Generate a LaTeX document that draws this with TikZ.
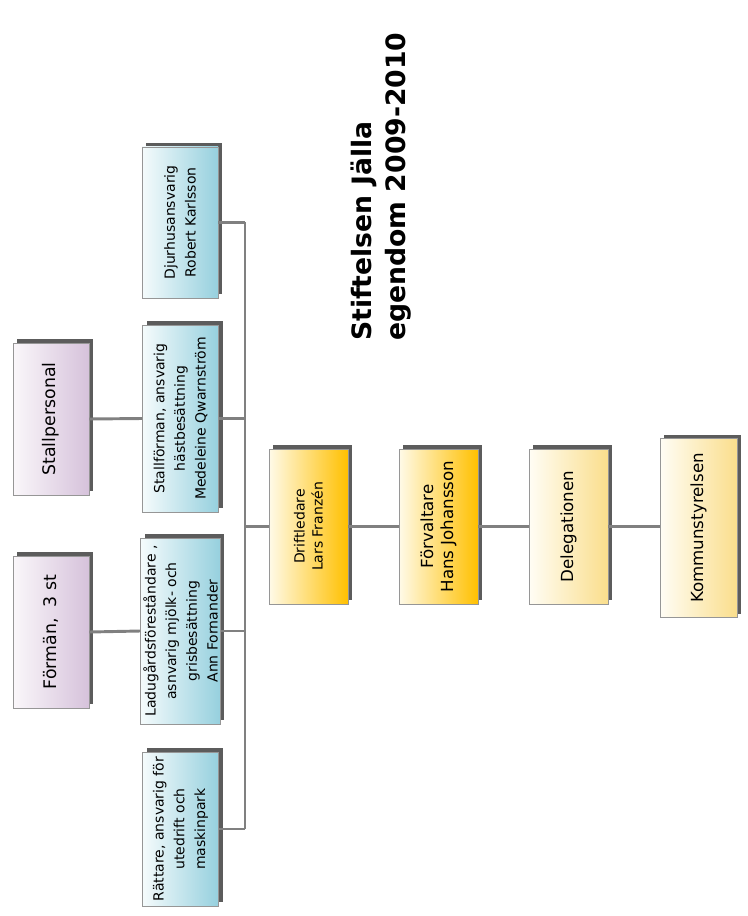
\documentclass[tikz,border=0pt]{standalone}
\usepackage{fontspec}
\setmainfont{DejaVu Sans}
\usepackage{tikz}
\usetikzlibrary{shadows}

\definecolor{lineGray}{RGB}{128,128,128}
\definecolor{edgeGray}{RGB}{150,150,150}
\definecolor{blueRight}{RGB}{150,208,222}
\definecolor{blueLeft}{RGB}{245,251,252}
\definecolor{mauveRight}{RGB}{214,194,219}
\definecolor{mauveLeft}{RGB}{250,247,250}
\definecolor{goldRight}{RGB}{255,192,0}
\definecolor{goldLeft}{RGB}{255,250,232}
\definecolor{paleRight}{RGB}{250,222,140}
\definecolor{paleLeft}{RGB}{255,253,245}

\tikzset{
  orgbox/.style={rotate=90, draw=edgeGray, line width=0.5pt, inner sep=2pt, align=center,
    drop shadow={shadow xshift=3pt, shadow yshift=3pt, fill=black!75, opacity=0.85}},
  bluebox/.style={orgbox, left color=blueLeft, right color=blueRight, minimum height=57pt,
    font=\fontsize{10.5}{15.5}\selectfont},
  mauvebox/.style={orgbox, left color=mauveLeft, right color=mauveRight, minimum height=57pt,
    minimum width=114pt, font=\fontsize{13}{16}\selectfont},
  goldbox/.style={orgbox, left color=goldLeft, right color=goldRight, minimum height=59.25pt,
    minimum width=116.25pt},
  palebox/.style={orgbox, left color=paleLeft, right color=paleRight,
    font=\fontsize{12.5}{15}\selectfont},
  link/.style={draw=lineGray, line width=2.2pt}
}

\begin{document}
\begin{tikzpicture}[x=0.75pt,y=0.75pt,yscale=-1,xscale=1]
\useasboundingbox (0,0) rectangle (747,916);

% Title
\node [rotate=90, anchor=west, align=left, inner sep=0pt,
  font=\bfseries\fontsize{20}{25.5}\selectfont] (title) at (381,341) {Stiftelsen Jälla\\egendom 2009-2010};

% Chain of command
\node [goldbox, font=\fontsize{10.5}{13.5}\selectfont] (drift) at (308.5,526.5) {Driftledare\\Lars Franzén};
\node [goldbox, font=\fontsize{12.5}{15}\selectfont] (forv) at (438.5,526.5) {Förvaltare\\Hans Johansson};
\node [palebox, minimum height=59.25pt, minimum width=116.25pt] (deleg) at (568.5,526.5) {Delegationen};
\node [palebox, minimum height=57.75pt, minimum width=134.25pt] (kommun) at (698.5,528) {Kommunstyrelsen};

% Staff under Driftledare
\node [bluebox, minimum width=113.25pt] (djur) at (180,222.5) {Djurhusansvarig\\Robert Karlsson};
\node [bluebox, minimum width=140.25pt] (stallf) at (180.5,418.5) {Stallförman, ansvarig\\hästbesättning\\Medeleine Qwarnström};
\node [bluebox, minimum width=139.5pt] (ladug) at (180.5,631) {Ladugårdsföreståndare ,\\asnvarig mjölk- och\\grisbesättning\\Ann Fornander};
\node [bluebox, minimum width=115.5pt] (ratt) at (180.5,829) {Rättare, ansvarig för\\utedrift och\\maskinpark};

% Outer staff
\node [mauvebox] (stallp) at (51,419) {Stallpersonal};
\node [mauvebox] (forman) at (51,632) {Förmän,~ 3 st};

% Bus
\coordinate (bus) at (245,526.5);

%Straight Lines
\draw [link] (drift.north) -- (drift.north -| bus);
\draw [link] (djur.south -| bus) -- (ratt.south -| bus);
\draw [link] (djur.south) -- (djur.south -| bus);
\draw [link] (stallf.south) -- (stallf.south -| bus);
\draw [link] (ladug.south) -- (ladug.south -| bus);
\draw [link] (ratt.south) -- (ratt.south -| bus);
\draw [link] (drift.south) -- (forv.north);
\draw [link] (forv.south) -- (deleg.north);
\draw [link] (deleg.south) -- (deleg.south -| kommun.north);
\draw [link] (stallp.south) -- (stallf.north);
\draw [link] (forman.south) -- (ladug.north);

\end{tikzpicture}
\end{document}
